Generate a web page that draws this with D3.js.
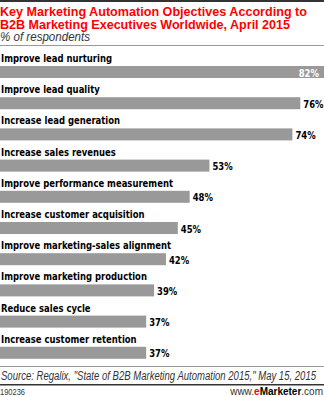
<!DOCTYPE html>
<html><head><meta charset="utf-8">
<script src="https://cdn.jsdelivr.net/npm/d3@7"></script>
<style>body{margin:0;background:#fff;}svg{display:block;}</style>
</head><body>
<svg id="c" width="324" height="397"></svg>
<script>
const categories = ["Improve lead nurturing","Improve lead quality","Increase lead generation","Increase sales revenues","Improve performance measurement","Increase customer acquisition","Improve marketing-sales alignment","Improve marketing production","Reduce sales cycle","Increase customer retention"];
const values = [82,76,74,53,48,45,42,39,37,37];
const titleLines = ["Key Marketing Automation Objectives According to","B2B Marketing Executives Worldwide, April 2015"];
const subtitle = "% of respondents";
const source = "Source: Regalix, \"State of B2B Marketing Automation 2015,\" May 15, 2015";
const chartId = "190236";

const svg = d3.select("#c");
const W = 324;
function fit(sel, target){
  sel.each(function(){
    const n = this.getComputedTextLength();
    if (n > target) { d3.select(this).attr("textLength", target).attr("lengthAdjust","spacingAndGlyphs"); }
  });
}
function squeeze(sel, f){
  sel.each(function(){
    const n = this.getComputedTextLength();
    d3.select(this).attr("textLength", n*f).attr("lengthAdjust","spacingAndGlyphs");
  });
}
svg.append("rect").attr("x",0).attr("y",0).attr("width",W).attr("height",2).attr("fill","#333");
const titles = svg.selectAll("text.title").data(titleLines).join("text").attr("class","title")
  .attr("x",0).attr("y",(d,i)=>15.5+i*13).text(d=>d)
  .attr("font-family","Arial, 'Liberation Sans', sans-serif").attr("font-weight","bold").attr("font-size",13).attr("fill","#ff0000");
const tw = [307, 290];
titles.each(function(d,i){ fit(d3.select(this), tw[i]); });
svg.append("text").attr("x",0).attr("y",40.5).text(subtitle)
  .attr("font-family","Arial, 'Liberation Sans', sans-serif").attr("font-style","italic").attr("font-size",12).attr("fill","#333")
  .call(fit, 90);
svg.append("rect").attr("x",0).attr("y",45).attr("width",W).attr("height",1).attr("fill","#999");

const x = d3.scaleLinear().domain([0,82]).range([0,W]);
const y = d3.scaleBand().domain(categories).range([47,47+31.2*10]).paddingInner(0).paddingOuter(0);
const g = svg.append("g");
const rows = g.selectAll("g.row").data(categories).join("g").attr("class","row")
  .attr("transform",d=>`translate(0,${y(d)})`);
const labels = rows.append("text").attr("x",1).attr("y",15).text(d=>d)
  .attr("font-family","'DejaVu Sans', Verdana, sans-serif").attr("font-weight","bold").attr("font-size",10.5).attr("fill","#000");
const f0 = 111 / labels.node().getComputedTextLength();
squeeze(labels, f0);
rows.append("rect").attr("x",0).attr("y",19).attr("height",12)
  .attr("width",(d,i)=>x(values[i])).attr("fill","#999999");
const vl = rows.append("text")
  .attr("x",(d,i)=> i===0 ? x(values[i])-5 : x(values[i])+3)
  .attr("y",29.5).attr("text-anchor",(d,i)=> i===0 ? "end":"start")
  .text((d,i)=>values[i]+"%")
  .attr("font-family","'DejaVu Sans', Verdana, sans-serif").attr("font-weight","bold").attr("font-size",10.5)
  .attr("fill",(d,i)=> i===0 ? "#fff":"#000");
squeeze(vl, f0);

svg.append("rect").attr("x",0).attr("y",366).attr("width",W).attr("height",1).attr("fill","#999");
svg.append("text").attr("x",1).attr("y",380).text(source)
  .attr("font-family","Arial, 'Liberation Sans', sans-serif").attr("font-style","italic").attr("font-size",12).attr("fill","#333")
  .call(fit, 315);
svg.append("rect").attr("x",0).attr("y",384).attr("width",W).attr("height",1.5).attr("fill","#333");
svg.append("text").attr("x",0).attr("y",395).text(chartId)
  .attr("font-family","Arial, 'Liberation Sans', sans-serif").attr("font-size",9).attr("fill","#333")
  .call(fit, 25);
const em = svg.append("text").attr("x",W-1).attr("y",395).attr("text-anchor","end")
  .attr("font-family","Arial, 'Liberation Sans', sans-serif").attr("font-size",10).attr("fill","#333");
em.append("tspan").text("www.");
em.append("tspan").text("e").attr("fill","#ff0000").attr("font-weight","bold");
em.append("tspan").text("Marketer").attr("font-weight","bold").attr("fill","#000");
em.append("tspan").text(".com");
</script>
</body></html>
